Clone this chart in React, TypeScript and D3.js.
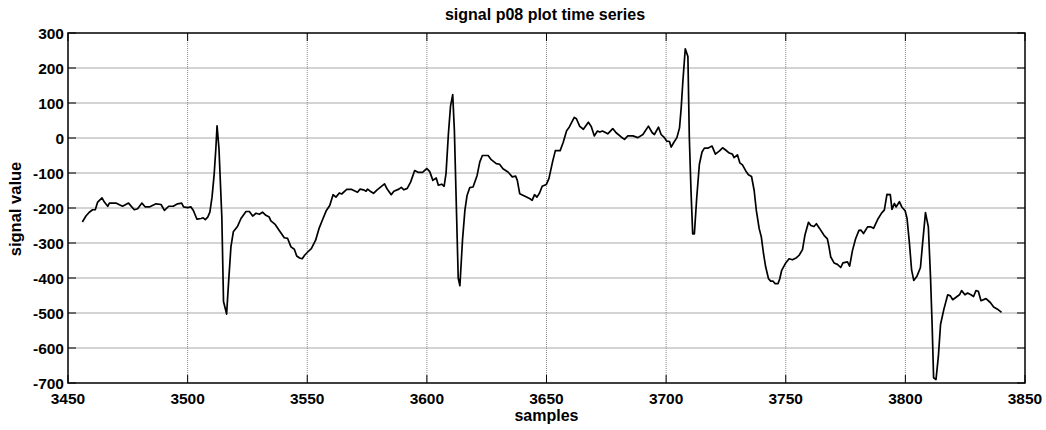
import React from "react";
import * as d3 from "d3";

// sample index of each recorded point
const samples: number[] = [
  3456, 3457.5, 3458.9, 3460.3, 3461.4, 3462.4, 3464.2, 3465.2, 3466.6, 3467.3,
  3470, 3472.8, 3475.3, 3477.7, 3479.1, 3480.9, 3482.3, 3484, 3486.8, 3488.9,
  3490.3, 3492.1, 3494, 3495.8, 3497.5, 3498.3, 3500, 3501.4, 3502.4, 3503.9,
  3505.6, 3506.5, 3507.4, 3508.4, 3509.3, 3510.2, 3511.1, 3511.8, 3512.3, 3513.1,
  3514.3, 3515, 3516.3, 3517.1, 3518.1, 3519.1, 3520.9, 3522.3, 3524.4, 3525.8,
  3527.2, 3528.6, 3530, 3531.3, 3532.7, 3534.1, 3534.8, 3536.6, 3538.3, 3540.4,
  3541.8, 3543.2, 3544.6, 3545.6, 3546.8, 3547.9, 3548.9, 3550.3, 3551.7, 3553.5,
  3554.9, 3556.6, 3558, 3559.4, 3560.8, 3562, 3563.4, 3564.4, 3566.5, 3568.6,
  3571, 3572.1, 3573.5, 3574.6, 3575.2, 3576.3, 3577.7, 3579.2, 3582.3, 3583.4,
  3585.1, 3586.2, 3588.3, 3589.3, 3590.4, 3591.8, 3593.2, 3594.9, 3596.3, 3598.2,
  3600, 3601.2, 3602.5, 3603.9, 3604.8, 3606.2, 3607.2, 3608, 3609, 3609.9,
  3610.8, 3611.5, 3612.4, 3613.1, 3613.8, 3614.9, 3615.9, 3616.8, 3617.9, 3619.3,
  3621, 3622.1, 3623.2, 3625.6, 3626.9, 3629, 3630.4, 3631.8, 3633.9, 3635.7,
  3637.1, 3637.8, 3638.8, 3640.8, 3642.9, 3644, 3645, 3646, 3647.1, 3648.2,
  3649.9, 3651, 3652.6, 3653.7, 3655.7, 3657, 3658.4, 3659.5, 3661.6, 3662.5,
  3663.9, 3665.4, 3667.5, 3668.7, 3670, 3671.3, 3672.3, 3673.4, 3675.6, 3677.7,
  3679.1, 3681.2, 3682.6, 3684, 3686.1, 3688.2, 3690.3, 3692.6, 3694.2, 3695.1,
  3696.8, 3697.9, 3699.3, 3700.3, 3701.4, 3702.1, 3703.2, 3704.5, 3705.6, 3706.3,
  3707, 3708, 3709.1, 3709.7, 3710.4, 3711.1, 3711.8, 3712.8, 3713.9, 3715,
  3716, 3717.4, 3719.2, 3720.6, 3722.3, 3723.6, 3725, 3726.4, 3727.7, 3728.4,
  3729.8, 3730.8, 3731.9, 3733.3, 3734.4, 3735.7, 3736.8, 3737.7, 3738.9, 3739.8,
  3740.7, 3741.6, 3742.8, 3743.7, 3744.7, 3745.5, 3746.8, 3747.5, 3748.3, 3750,
  3751.4, 3752.8, 3754.5, 3755.6, 3757, 3758, 3759.5, 3760.5, 3761.8, 3762.8,
  3764.2, 3766, 3767.4, 3768.1, 3768.8, 3770.2, 3771.6, 3773, 3773.9, 3775.8,
  3776.7, 3777.9, 3779.2, 3780.6, 3781.4, 3782.5, 3784.2, 3785.6, 3786.7, 3788.4,
  3790.1, 3791.2, 3792.3, 3793.7, 3794.4, 3795.4, 3796.1, 3797.5, 3798.5, 3799.9,
  3800.7, 3801.7, 3802.6, 3803.5, 3804.9, 3806.3, 3807.2, 3808.4, 3809.6, 3810.5,
  3811.2, 3811.8, 3812.8, 3813.8, 3814.7, 3816.1, 3817.7, 3818.8, 3819.8, 3821.2,
  3822.6, 3823.5, 3824.9, 3826, 3827.4, 3828.5, 3829.5, 3830.5, 3831.6, 3833.7,
  3835.5, 3836.9, 3838.5, 3840.2,
];

// signal value at each sample
const signal: number[] = [
  -240, -223, -212, -205, -205, -183, -171, -183, -195, -186,
  -186, -195, -186, -205, -202, -186, -197, -197, -188, -190,
  -207, -195, -195, -188, -186, -197, -199, -197, -207, -232,
  -230, -228, -233, -226, -212, -169, -103, -30, 35, -30,
  -226, -467, -503, -414, -311, -268, -252, -230, -210, -210,
  -223, -215, -218, -212, -221, -226, -237, -247, -264, -285,
  -287, -311, -318, -337, -343, -345, -335, -325, -316, -292,
  -259, -230, -207, -193, -162, -169, -157, -160, -147, -147,
  -155, -146, -148, -152, -146, -152, -158, -148, -131, -146,
  -162, -152, -146, -141, -148, -144, -126, -93, -98, -98,
  -87, -96, -121, -114, -135, -132, -138, -102, 12, 92,
  124, 21, -216, -400, -422, -291, -206, -164, -142, -140,
  -107, -69, -50, -50, -62, -73, -75, -88, -97, -111,
  -109, -121, -159, -166, -173, -178, -162, -169, -157, -138,
  -133, -116, -66, -36, -36, -12, 21, 31, 59, 55,
  33, 25, 45, 33, 6, 20, 17, 20, 12, 27,
  15, 3, -4, 6, 6, 1, 10, 34, 15, 10,
  31, 10, 1, -9, -10, -26, -13, 1, 29, 86,
  162, 255, 233, 1, -151, -274, -274, -170, -75, -40,
  -29, -29, -23, -46, -37, -28, -35, -43, -46, -56,
  -48, -71, -77, -94, -105, -110, -150, -207, -259, -283,
  -330, -368, -402, -409, -409, -416, -416, -402, -378, -357,
  -345, -348, -342, -335, -319, -278, -241, -250, -253, -245,
  -259, -278, -288, -312, -340, -357, -361, -370, -357, -354,
  -366, -321, -288, -264, -263, -273, -254, -254, -258, -233,
  -214, -206, -161, -162, -204, -187, -197, -182, -197, -208,
  -230, -301, -377, -407, -394, -370, -301, -213, -254, -396,
  -538, -685, -690, -623, -533, -489, -448, -451, -462, -455,
  -448, -436, -448, -443, -448, -453, -436, -438, -465, -459,
  -470, -483, -489, -498,
];

const xTicks: number[] = [3450, 3500, 3550, 3600, 3650, 3700, 3750, 3800, 3850];
const yTicks: number[] = [300, 200, 100, 0, -100, -200, -300, -400, -500, -600, -700];

const W = 1046;
const H = 430;
const margin = { left: 68, right: 21, top: 33, bottom: 47 };
const FONT = "'Liberation Sans', Arial, Helvetica, sans-serif";

export default function App() {
  const x = d3
    .scaleLinear()
    .domain([3450, 3850])
    .range([margin.left, W - margin.right]);
  const y = d3
    .scaleLinear()
    .domain([-700, 300])
    .range([H - margin.bottom, margin.top]);

  const points: [number, number][] = samples.map((s, i) => [s, signal[i]]);
  const line = d3
    .line<[number, number]>()
    .x((d) => x(d[0]))
    .y((d) => y(d[1]));

  const [x0, x1] = x.range();
  const [y0, y1] = y.range(); // y0 bottom, y1 top
  const tickLen = 8;

  return (
    <svg
      width={W}
      height={H}
      style={{ position: "absolute", left: 0, top: 0, background: "#fff" }}
      fontFamily={FONT}
    >
      <rect x={0} y={0} width={W} height={H} fill="#fff" />

      {/* grid */}
      {yTicks
        .filter((t) => t !== 300 && t !== -700)
        .map((t) => (
          <line
            key={"gy" + t}
            x1={x0}
            x2={x1}
            y1={y(t)}
            y2={y(t)}
            stroke="#a8a8a8"
            strokeWidth={1}
          />
        ))}
      {xTicks
        .filter((t) => t !== 3450 && t !== 3850)
        .map((t) => (
          <line
            key={"gx" + t}
            x1={x(t)}
            x2={x(t)}
            y1={y0}
            y2={y1}
            stroke="#8a8a8a"
            strokeWidth={1}
            strokeDasharray="1,1"
          />
        ))}

      {/* tick marks on all four sides */}
      {yTicks.map((t) => (
        <g key={"ty" + t}>
          <line x1={x0} x2={x0 + tickLen} y1={y(t)} y2={y(t)} stroke="#000" />
          <line x1={x1} x2={x1 - tickLen} y1={y(t)} y2={y(t)} stroke="#000" />
        </g>
      ))}
      {xTicks.map((t) => (
        <g key={"tx" + t}>
          <line x1={x(t)} x2={x(t)} y1={y0} y2={y0 - tickLen} stroke="#000" />
          <line x1={x(t)} x2={x(t)} y1={y1} y2={y1 + tickLen} stroke="#000" />
        </g>
      ))}

      {/* signal trace */}
      <path
        d={line(points) || ""}
        fill="none"
        stroke="#000"
        strokeWidth={1.7}
        strokeLinejoin="round"
      />

      {/* axes box */}
      <rect
        x={x0}
        y={y1}
        width={x1 - x0}
        height={y0 - y1}
        fill="none"
        stroke="#000"
        strokeWidth={1.5}
      />

      {/* tick labels */}
      {yTicks.map((t) => (
        <text
          key={"ly" + t}
          x={x0 - 4}
          y={y(t) + 5.5}
          textAnchor="end"
          fontSize={15.5}
          fontWeight="bold"
        >
          {t}
        </text>
      ))}
      {xTicks.map((t) => (
        <text
          key={"lx" + t}
          x={x(t)}
          y={404}
          textAnchor="middle"
          fontSize={15.5}
          fontWeight="bold"
        >
          {t}
        </text>
      ))}

      {/* titles */}
      <text
        x={545}
        y={20}
        textAnchor="middle"
        fontSize={16}
        fontWeight="bold"
      >
        signal p08 plot time series
      </text>
      <text
        x={(x0 + x1) / 2}
        y={421}
        textAnchor="middle"
        fontSize={16}
        fontWeight="bold"
      >
        samples
      </text>
      <text
        transform={`translate(21,209) rotate(-90)`}
        textAnchor="middle"
        fontSize={16.5}
        fontWeight="bold"
      >
        signal value
      </text>
    </svg>
  );
}
